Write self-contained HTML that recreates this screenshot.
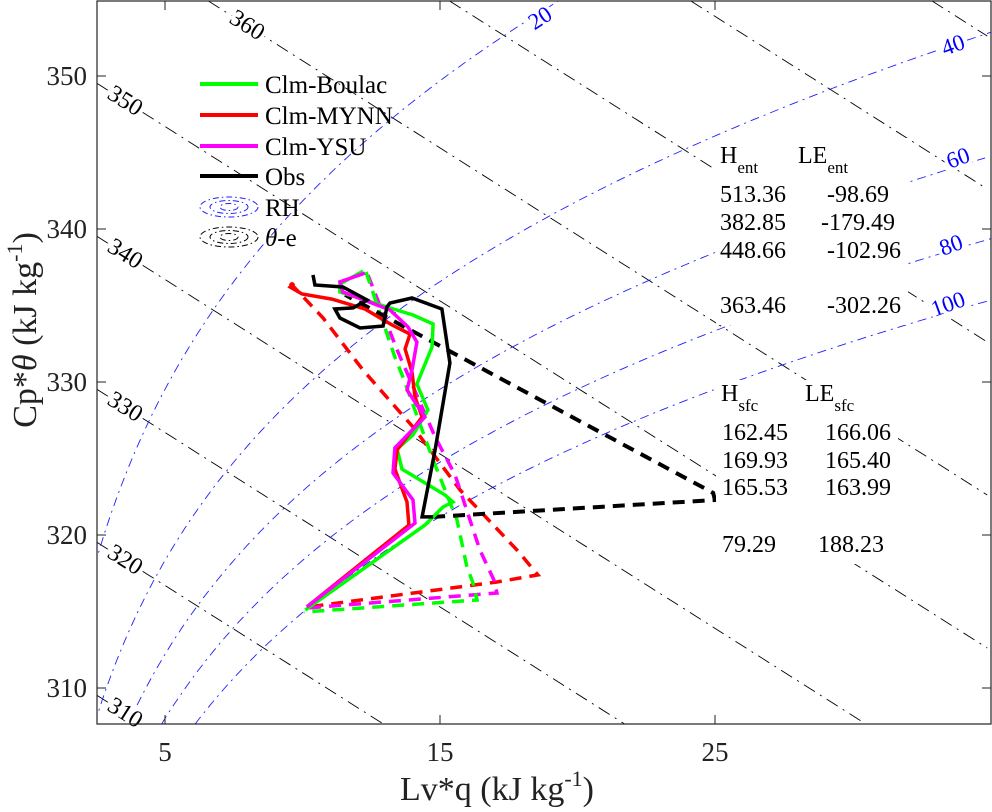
<!DOCTYPE html>
<html><head><meta charset="utf-8"><style>
html,body{margin:0;padding:0;background:#fff;width:992px;height:812px;overflow:hidden;position:relative;}
svg{display:block;font-family:"Liberation Serif",serif;}
</style></head><body>
<svg id="chart" width="992" height="812" viewBox="0 0 992 812" xmlns="http://www.w3.org/2000/svg" style="position:absolute;left:0;top:0">
<defs><clipPath id="plotclip"><rect x="97" y="1" width="894" height="723"/></clipPath></defs>
<rect x="0" y="0" width="992" height="812" fill="#fff"/>
<g id="bg" clip-path="url(#plotclip)"></g>
<g id="series" clip-path="url(#plotclip)"></g>
<g id="overlay"></g>
</svg>
<script>
// ---- data ----
const thetaELevels = [310, 320, 330, 340, 350, 360, 370, 380, 390];
const thetaELabels = ["310", "320", "330", "340", "350", "360"];
const rhLevels = [20, 40, 60, 80, 100];
const xTicks = [5, 15, 25];
const yTicks = [310, 320, 330, 340, 350];

const obsQ = [10.38,10.45,11.47,12.35,11.84,11.18,11.36,12.09,12.93,13.07,13.18,13.98,15.07,15.36,14.82,14.35,14.75];
const obsT = [337.0,336.34,336.21,335.36,334.84,334.77,334.18,333.53,333.66,334.90,335.16,335.49,334.77,331.24,325.56,321.18,321.18];
const obsDashQ = [14.75,25.0,24.93,11.55];
const obsDashT = [321.18,322.29,322.75,335.69];

const boulacQ = [12.20,11.36,11.36,13.07,14.02,14.75,14.71,14.16,14.56,14.02,13.44,13.62,15.18,15.47,15.11,14.45,10.10];
const boulacT = [337.25,336.40,335.88,334.90,334.38,333.79,332.29,329.87,328.17,326.54,325.62,324.31,322.62,322.16,321.83,320.65,315.10];
const boulacDashQ = [12.31,13.36,13.65,14.75,15.62,15.98,16.20,16.35,10.05];
const boulacDashT = [337.19,331.63,330.33,324.90,320.98,317.91,316.86,315.75,314.97];

const ysuQ = [12.27,11.36,11.47,13.18,13.84,14.16,13.98,13.80,14.45,13.36,13.29,14.02,14.09,10.16];
const ysuT = [337.12,336.54,335.88,334.71,333.59,332.61,330.78,329.48,327.71,325.69,324.05,322.29,320.78,315.30];
const ysuDashQ = [12.38,13.44,14.82,15.55,16.45,16.96,17.07,10.16];
const ysuDashT = [336.99,332.09,326.41,323.92,319.02,317.06,316.21,315.23];

const mynnQ = [9.69,9.55,9.98,11.07,12.27,13.25,13.91,13.73,13.98,14.09,14.35,13.44,13.36,13.80,13.87,10.16];
const mynnT = [336.47,336.21,335.75,335.42,334.77,333.73,333.14,332.16,330.65,329.02,327.71,325.56,324.31,322.16,320.65,315.30];
const mynnDashQ = [9.55,10.75,12.20,14.02,15.73,17.80,18.56,17.07,10.16];
const mynnDashT = [336.47,334.18,330.78,327.06,322.94,319.02,317.39,316.93,315.29];

// ---- axis functions ----
const X0 = 165, XS = 27.5, Y0 = 76, YS = 15.3;
const xPx = q => X0 + (q - 5) * XS;
const yPx = t => Y0 + (350 - t) * YS;
const qMin = 2.53, qMax = 34.9, tMin = 307.65, tMax = 354.9;

const NS = "http://www.w3.org/2000/svg";
const bg = document.getElementById('bg');
const series = document.getElementById('series');
const overlay = document.getElementById('overlay');
function mk(tag, attrs, parent) {
  const e = document.createElementNS(NS, tag);
  for (const k in attrs) e.setAttribute(k, attrs[k]);
  parent.appendChild(e);
  return e;
}

// theta-e isolines (endpoints clipped to the axes range)
thetaELevels.forEach(L => {
  const c = L + 2.4;
  const x1 = Math.max(qMin, (c - tMax) / 1.14);
  const x2 = Math.min(qMax, (c - tMin) / 1.14);
  if (x1 >= x2) return;
  const l = mk('line', {x1: xPx(x1), y1: yPx(c - 1.14 * x1), x2: xPx(x2), y2: yPx(c - 1.14 * x2),
    stroke: '#000', 'stroke-width': 0.9, 'stroke-dasharray': '13,6,2,6', fill: 'none'}, bg);
  
  
});

// RH isolines
function rhQ(rh, t) { const d = t - 307.65; return rh / 100 * Math.exp(1.808 + 0.0697 * d - 0.000238 * d * d); }
rhLevels.forEach(rh => {
  let pts = [];
  for (let t = tMin; t <= tMax + 0.001; t += 0.25) {
    const q = rhQ(rh, t);
    if (q < qMin - 0.3) continue;
    if (q > qMax + 0.3) break;
    pts.push(xPx(q).toFixed(1) + ',' + yPx(t).toFixed(1));
  }
  const p = mk('polyline', {points: pts.join(' '), stroke: '#1f1fff', 'stroke-width': 0.9,
    'stroke-dasharray': '9,5,2,5', fill: 'none'}, bg);
  
  
});

// profiles
function poly(qs, ts, color, dashed, w, name) {
  const pts = qs.map((q, i) => xPx(q).toFixed(1) + ',' + yPx(ts[i]).toFixed(1)).join(' ');
  const a = {points: pts, stroke: color, 'stroke-width': w, fill: 'none', 'stroke-linejoin': 'miter'};
  if (dashed) a['stroke-dasharray'] = '12,8';
  const p = mk('polyline', a, series);
  
  
}
poly(mynnDashQ, mynnDashT, '#ff0000', true, 3.5, 'mynn-mixing-line');
poly(ysuDashQ, ysuDashT, '#ff00ff', true, 3.5, 'ysu-mixing-line');
poly(boulacDashQ, boulacDashT, '#00ff00', true, 3.5, 'boulac-mixing-line');
poly(obsDashQ, obsDashT, '#000', true, 4, 'obs-mixing-line');
poly(boulacQ, boulacT, '#00ff00', false, 3.5, 'boulac-profile');
poly(mynnQ, mynnT, '#ff0000', false, 3.5, 'mynn-profile');
poly(ysuQ, ysuT, '#ff00ff', false, 3.5, 'ysu-profile');
poly(obsQ, obsT, '#000', false, 3.5, 'obs-profile');

// theta-e labels
thetaELabels.forEach(lbl => {
  const L = +lbl;
  const px = L === 360 ? 247 : 125;
  const q = (px - X0) / XS + 5;
  const py = yPx(L + 2.4 - 1.14 * q);
  const t = mk('text', {x: 0, y: 0, transform: `translate(${px},${py}) rotate(32.4)`, 'text-anchor': 'middle',
    'dominant-baseline': 'central', 'font-size': 24, fill: '#000', stroke: '#fff', 'stroke-width': 7,
    'paint-order': 'stroke'}, overlay);
  t.textContent = lbl;
  
  
});

// RH labels
const rhLabelPos = [[540,18,-33],[953,45,-20],[958,158,-20],[951,245,-20],[948,304,-20]];
rhLevels.forEach((rh, i) => {
  const [x, y, r] = rhLabelPos[i];
  const t = mk('text', {x: 0, y: 0, transform: `translate(${x},${y}) rotate(${r})`, 'text-anchor': 'middle',
    'dominant-baseline': 'central', 'font-size': 23, fill: '#0000ff', stroke: '#fff', 'stroke-width': 7,
    'paint-order': 'stroke'}, overlay);
  t.textContent = String(rh);
  
  
});

// white text boxes
const box1 = mk('rect', {x: 716, y: 138, width: 192, height: 187, fill: '#fff'}, overlay);


const box2 = mk('rect', {x: 716, y: 380, width: 182, height: 184, fill: '#fff'}, overlay);



// axes box
const frame = mk('rect', {x: 97, y: 1, width: 894, height: 723, fill: 'none', stroke: '#222', 'stroke-width': 1.2}, overlay);



xTicks.forEach(v => {
  const x = xPx(v);
  mk('line', {x1: x, y1: 724, x2: x, y2: 715, stroke: '#222', 'stroke-width': 1}, overlay);
  mk('line', {x1: x, y1: 1, x2: x, y2: 10, stroke: '#222', 'stroke-width': 1}, overlay);
  const t = mk('text', {x: x, y: 761, 'text-anchor': 'middle', 'font-size': 27, fill: '#222'}, overlay);
  t.textContent = String(v);
  
  
});
yTicks.forEach(v => {
  const y = yPx(v);
  mk('line', {x1: 97, y1: y, x2: 106, y2: y, stroke: '#222', 'stroke-width': 1}, overlay);
  mk('line', {x1: 991, y1: y, x2: 982, y2: y, stroke: '#222', 'stroke-width': 1}, overlay);
  const t = mk('text', {x: 87, y: y + 9, 'text-anchor': 'end', 'font-size': 27, fill: '#222'}, overlay);
  t.textContent = String(v);
  
  
});
</script>
<svg style="position:absolute;left:0;top:0" width="992" height="812" viewBox="0 0 992 812" xmlns="http://www.w3.org/2000/svg" font-family="Liberation Serif, serif">
  <g>
    <line x1="200" y1="84" x2="258" y2="84" stroke="#00ff00" stroke-width="4"/>
    <text x="265" y="93" font-size="25">Clm-Boulac</text>
    <line x1="200" y1="115" x2="258" y2="115" stroke="#ff0000" stroke-width="4"/>
    <text x="265" y="124" font-size="25">Clm-MYNN</text>
    <line x1="200" y1="146" x2="258" y2="146" stroke="#ff00ff" stroke-width="4"/>
    <text x="265" y="155" font-size="25">Clm-YSU</text>
    <line x1="200" y1="176" x2="258" y2="176" stroke="#000" stroke-width="4"/>
    <text x="265" y="185" font-size="25">Obs</text>
    <g fill="none" stroke="#1f1fff" stroke-width="1" stroke-dasharray="6,3,1.5,3">
      <ellipse cx="229" cy="207" rx="29" ry="10"/><ellipse cx="229" cy="207" rx="19" ry="6.5"/><ellipse cx="229" cy="207" rx="9" ry="3.5"/>
    </g>
    <text x="265" y="216" font-size="25">RH</text>
    <g fill="none" stroke="#000" stroke-width="1" stroke-dasharray="6,3,1.5,3">
      <ellipse cx="229" cy="237" rx="29" ry="10"/><ellipse cx="229" cy="237" rx="19" ry="6.5"/><ellipse cx="229" cy="237" rx="9" ry="3.5"/>
    </g>
    <text x="265" y="246" font-size="25"><tspan font-style="italic">θ</tspan>-e</text>
  </g>
  <g font-size="24" fill="#000">
    <text x="720" y="163">H<tspan font-size="17" dy="10">ent</tspan></text>
    <text x="798" y="163">LE<tspan font-size="17" dy="10">ent</tspan></text>
    <text x="720" y="202">513.36</text><text x="827" y="202">-98.69</text>
    <text x="720" y="230">382.85</text><text x="821" y="230">-179.49</text>
    <text x="720" y="258">448.66</text><text x="827" y="258">-102.96</text>
    <text x="720" y="313">363.46</text><text x="827" y="313">-302.26</text>
  </g>
  <g font-size="24" fill="#000">
    <text x="721" y="401">H<tspan font-size="17" dy="10">sfc</tspan></text>
    <text x="805" y="401">LE<tspan font-size="17" dy="10">sfc</tspan></text>
    <text x="722" y="440">162.45</text><text x="825" y="440">166.06</text>
    <text x="722" y="468">169.93</text><text x="825" y="468">165.40</text>
    <text x="722" y="495">165.53</text><text x="825" y="495">163.99</text>
    <text x="722" y="552">79.29</text><text x="818" y="552">188.23</text>
  </g>
  <text x="497" y="800" text-anchor="middle" font-size="34" fill="#222">Lv*q (kJ kg<tspan font-size="22" dy="-14">-1</tspan><tspan dy="14">)</tspan></text>
  <text x="0" y="0" text-anchor="middle" font-size="34" fill="#222" transform="translate(36,330) rotate(-90)">Cp*<tspan font-style="italic">θ</tspan> (kJ kg<tspan font-size="22" dy="-14">-1</tspan><tspan dy="14">)</tspan></text>
</svg>
</body></html>
